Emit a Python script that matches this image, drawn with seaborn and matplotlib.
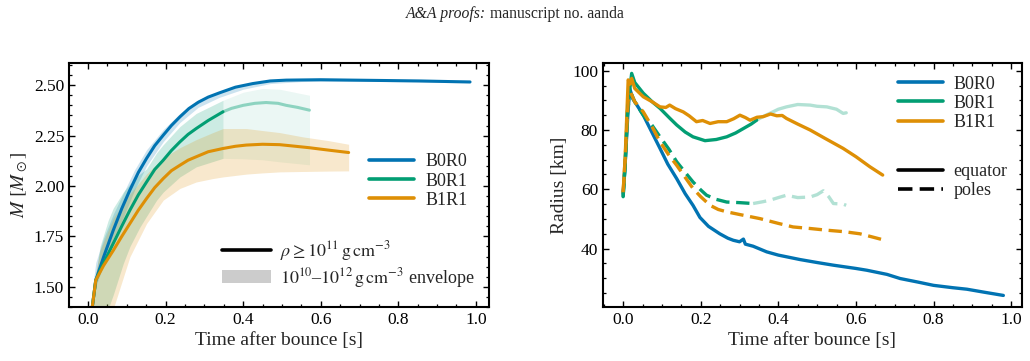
import numpy as np
import matplotlib
matplotlib.use("Agg")
import matplotlib.pyplot as plt
from matplotlib.ticker import AutoMinorLocator
from matplotlib.lines import Line2D
from matplotlib.patches import Patch
import seaborn as sns

# ---------------- data ----------------
models = ["B0R0", "B0R1", "B1R1"]
t_cut = 0.35  # B0R1 shown faded after this time

# Left panel: mass (rho >= 1e11 g/cm3)
t_m_b0r0 = [0.005, 0.008, 0.011, 0.020, 0.040, 0.065, 0.087, 0.108, 0.130, 0.151, 0.172, 0.194,
            0.215, 0.237, 0.260, 0.284, 0.310, 0.339, 0.380, 0.425, 0.470, 0.511, 0.600, 0.682,
            0.770, 0.853, 0.930, 0.985]
m_b0r0 = [1.30, 1.35, 1.40, 1.533, 1.647, 1.78, 1.888, 1.98, 2.068, 2.137, 2.20, 2.252,
          2.30, 2.343, 2.384, 2.415, 2.441, 2.462, 2.49, 2.508, 2.521, 2.525, 2.527, 2.525,
          2.523, 2.521, 2.518, 2.516]

t_m_b0r1 = [0.005, 0.008, 0.011, 0.020, 0.040, 0.065, 0.087, 0.108, 0.130, 0.151, 0.172, 0.194,
            0.215, 0.237, 0.258, 0.279, 0.310, 0.348, 0.370, 0.400, 0.430, 0.459, 0.490, 0.511,
            0.540, 0.571]
m_b0r1 = [1.30, 1.35, 1.40, 1.533, 1.617, 1.715, 1.801, 1.88, 1.957, 2.02, 2.082, 2.128,
          2.176, 2.219, 2.256, 2.285, 2.325, 2.368, 2.385, 2.40, 2.41, 2.414, 2.41, 2.40,
          2.39, 2.376]

t_m_b1r1 = [0.005, 0.008, 0.011, 0.020, 0.040, 0.065, 0.087, 0.108, 0.130, 0.151, 0.172, 0.194,
            0.215, 0.237, 0.258, 0.279, 0.310, 0.348, 0.380, 0.408, 0.450, 0.494, 0.530, 0.570,
            0.620, 0.672]
m_b1r1 = [1.30, 1.35, 1.40, 1.533, 1.605, 1.68, 1.75, 1.814, 1.881, 1.938, 1.992, 2.037,
          2.076, 2.103, 2.128, 2.145, 2.17, 2.186, 2.197, 2.203, 2.207, 2.205, 2.198, 2.19,
          2.178, 2.166]

# Envelopes (1e10 - 1e12 g/cm3)
t_env_b0r0 = [0.012, 0.020, 0.040, 0.065, 0.090, 0.120, 0.151, 0.194, 0.237, 0.284, 0.339,
              0.400, 0.470, 0.550, 0.700, 0.850, 0.985]
env_hi_b0r0 = [1.50, 1.62, 1.74, 1.86, 1.96, 2.08, 2.18, 2.28, 2.36, 2.428, 2.47,
               2.503, 2.525, 2.531, 2.530, 2.525, 2.52]
env_lo_b0r0 = [1.38, 1.50, 1.61, 1.74, 1.84, 1.98, 2.10, 2.22, 2.315, 2.39, 2.44,
               2.48, 2.508, 2.518, 2.520, 2.516, 2.511]

t_env_b0r1 = [0.012, 0.020, 0.031, 0.052, 0.065, 0.091, 0.108, 0.134, 0.151, 0.177, 0.194,
              0.237, 0.279, 0.348, 0.400, 0.450, 0.494, 0.571]
env_hi_b0r1 = [1.40, 1.56, 1.70, 1.83, 1.89, 1.97, 2.01, 2.06, 2.085, 2.165, 2.205,
               2.295, 2.36, 2.425, 2.465, 2.484, 2.48, 2.45]
env_lo_b0r1 = [1.00, 1.10, 1.22, 1.39, 1.46, 1.616, 1.70, 1.797, 1.85, 1.93, 1.97,
               2.045, 2.095, 2.137, 2.135, 2.13, 2.12, 2.105]

t_env_b1r1 = [0.012, 0.020, 0.031, 0.052, 0.065, 0.108, 0.151, 0.194, 0.237, 0.279, 0.322,
              0.348, 0.408, 0.450, 0.494, 0.553, 0.620, 0.672]
env_hi_b1r1 = [1.40, 1.57, 1.68, 1.78, 1.84, 1.96, 2.06, 2.14, 2.19, 2.23, 2.265,
               2.285, 2.285, 2.275, 2.265, 2.244, 2.225, 2.207]
env_lo_b1r1 = [0.90, 1.00, 1.10, 1.30, 1.39, 1.649, 1.814, 1.93, 1.988, 2.02, 2.037,
               2.045, 2.059, 2.065, 2.07, 2.072, 2.074, 2.075]

# Right panel: radius, equator
t_eq_b0r0 = [0.0, 0.005, 0.012, 0.017, 0.025, 0.035, 0.052, 0.075, 0.095, 0.115, 0.138, 0.16,
             0.18, 0.198, 0.22, 0.249, 0.27, 0.284, 0.30, 0.31, 0.315, 0.335, 0.37, 0.40,
             0.456, 0.50, 0.542, 0.60, 0.628, 0.68, 0.714, 0.76, 0.80, 0.85, 0.886, 0.93, 0.98]
r_eq_b0r0 = [58.5, 68, 85, 94, 90.5, 88.5, 85, 79, 73.8, 68.5, 63.6, 58.5,
             54.6, 50.5, 47.5, 45, 43.5, 42.8, 42.3, 43.2, 41.5, 40.8, 38.9, 37.8,
             36.3, 35.3, 34.4, 33.3, 32.7, 31.3, 29.9, 28.7, 27.6, 26.8, 26.3, 25.3, 24.2]

t_eq_b0r1 = [0.0, 0.005, 0.012, 0.022, 0.03, 0.052, 0.075, 0.095, 0.12, 0.138, 0.16, 0.18,
             0.211, 0.24, 0.267, 0.29, 0.31, 0.33, 0.344, 0.36, 0.378, 0.40, 0.421, 0.45,
             0.482, 0.50, 0.525, 0.55, 0.567, 0.575]
r_eq_b0r1 = [57.5, 68, 88, 99.1, 96, 92.4, 89.5, 87.3, 84, 81.7, 79.3, 77.7,
             76.4, 76.8, 77.7, 79, 80.5, 82, 83.3, 84.5, 85.6, 87, 87.8, 88.6,
             88.4, 88, 87.8, 87, 85.6, 85.8]

t_eq_b1r1 = [0.0, 0.005, 0.013, 0.018, 0.022, 0.03, 0.052, 0.075, 0.095, 0.11, 0.12, 0.135,
             0.155, 0.17, 0.189, 0.205, 0.224, 0.245, 0.267, 0.285, 0.301, 0.315, 0.327, 0.345,
             0.361, 0.38, 0.396, 0.41, 0.421, 0.45, 0.482, 0.52, 0.567, 0.60, 0.636, 0.669]
r_eq_b1r1 = [59, 70, 96.9, 95.5, 97.4, 94, 91.2, 89.5, 87.8, 87.6, 88.4, 87.2,
             86.1, 84.8, 82.8, 83.2, 82.2, 82.8, 82.8, 83.8, 85, 84.2, 83.3, 84.3,
             84.5, 85.4, 84.8, 84.9, 83.9, 82, 80, 77.2, 73.8, 71, 67.6, 64.8]

# Right panel: radius, poles
t_po_b0r1 = [0.0, 0.005, 0.012, 0.022, 0.03, 0.052, 0.075, 0.095, 0.118, 0.138, 0.16, 0.18,
             0.20, 0.215, 0.24, 0.267, 0.30, 0.335, 0.36, 0.378, 0.40, 0.421, 0.45, 0.482,
             0.50, 0.516, 0.53, 0.542, 0.567, 0.575]
r_po_b0r1 = [57.5, 68, 88, 92, 89.5, 85, 81.5, 77.7, 73.5, 69.3, 65.7, 62.5,
             59.8, 58, 56.6, 55.7, 55.5, 55.2, 55.8, 56.3, 57.2, 58, 57.2, 57.4,
             58.2, 59.5, 57.5, 55.2, 55.0, 54.6]

t_po_b1r1 = [0.0, 0.005, 0.013, 0.02, 0.03, 0.052, 0.075, 0.095, 0.118, 0.138, 0.16, 0.18,
             0.20, 0.224, 0.245, 0.267, 0.30, 0.353, 0.40, 0.438, 0.48, 0.525, 0.57, 0.61,
             0.64, 0.669]
r_po_b1r1 = [59, 70, 90, 92.5, 89.5, 86.1, 81, 76, 71.5, 68.1, 64, 60.3,
             57.5, 54.6, 53.2, 52.4, 51.5, 50.1, 48.5, 47.3, 46.8, 46.2, 45.7, 45,
             44, 43]

# ---------------- style ----------------
sns.set_theme(style="ticks")
pal = sns.color_palette("colorblind")
colors = {"B0R0": pal[0], "B0R1": pal[2], "B1R1": pal[1]}

plt.rcParams.update({
    "font.family": ["Liberation Serif", "DejaVu Serif"],
    "mathtext.fontset": "stix",
    "xtick.direction": "in", "ytick.direction": "in",
    "xtick.top": True, "ytick.right": True,
    "xtick.major.size": 4.0, "ytick.major.size": 4.0,
    "xtick.minor.size": 2.2, "ytick.minor.size": 2.2,
    "xtick.major.width": 1.0, "ytick.major.width": 1.0,
    "xtick.minor.width": 0.9, "ytick.minor.width": 0.9,
    "axes.linewidth": 1.5,
    "xtick.labelsize": 12.5, "ytick.labelsize": 12.5,
    "axes.labelsize": 14,
    "xtick.color": "black", "ytick.color": "black",
    "axes.edgecolor": "black",
    "axes.labelpad": 3.0,
})

fig = plt.figure(figsize=(10.30, 3.61), dpi=100)
axL = fig.add_axes([0.067, 0.1496, 0.4078, 0.6759])
axR = fig.add_axes([0.5854, 0.1496, 0.4068, 0.6759])

# header line: italic part + roman part, centred together
renderer = fig.canvas.get_renderer()
t1 = fig.text(0, 0.962, "A&A proofs:", style="italic", fontsize=11.3, va="center", ha="left")
t2 = fig.text(0, 0.962, " manuscript no. aanda", fontsize=11.3, va="center", ha="left")
w1 = t1.get_window_extent(renderer).width / fig.bbox.width
w2 = t2.get_window_extent(renderer).width / fig.bbox.width
x0 = 0.5 - (w1 + w2) / 2
t1.set_x(x0)
t2.set_x(x0 + w1)

LW = 2.2
LWR = 2.4


def split(t, y, cut):
    t = np.asarray(t); y = np.asarray(y)
    a = t <= cut + 1e-9
    i = np.nonzero(a)[0][-1]
    return (t[a], y[a]), (t[i:], y[i:])


# ---------------- left panel ----------------
axL.fill_between(t_env_b0r0, env_lo_b0r0, env_hi_b0r0, color=colors["B0R0"], alpha=0.2, lw=0)
(e1, e2) = split(t_env_b0r1, env_lo_b0r1, t_cut)
(f1, f2) = split(t_env_b0r1, env_hi_b0r1, t_cut)
axL.fill_between(e1[0], e1[1], f1[1], color=colors["B0R1"], alpha=0.2, lw=0)
axL.fill_between(e2[0], e2[1], f2[1], color=colors["B0R1"], alpha=0.08, lw=0)
axL.fill_between(t_env_b1r1, env_lo_b1r1, env_hi_b1r1, color=colors["B1R1"], alpha=0.2, lw=0)

sns.lineplot(x=t_m_b0r0, y=m_b0r0, ax=axL, color=colors["B0R0"], lw=LW, sort=False, estimator=None)
(s1, s2) = split(t_m_b0r1, m_b0r1, t_cut)
sns.lineplot(x=s1[0], y=s1[1], ax=axL, color=colors["B0R1"], lw=LW, sort=False, estimator=None)
sns.lineplot(x=s2[0], y=s2[1], ax=axL, color=colors["B0R1"], lw=LW, alpha=0.4, sort=False, estimator=None)
sns.lineplot(x=t_m_b1r1, y=m_b1r1, ax=axL, color=colors["B1R1"], lw=LW, sort=False, estimator=None)

axL.set_xlim(-0.049, 1.034)
axL.set_ylim(1.40, 2.61)
axL.set_yticks([1.50, 1.75, 2.00, 2.25, 2.50])
axL.set_yticklabels(["1.50", "1.75", "2.00", "2.25", "2.50"])
axL.set_xticks([0.0, 0.2, 0.4, 0.6, 0.8, 1.0])
axL.set_xlabel("Time after bounce [s]")
axL.set_ylabel(r"$M\ [M_\odot]$")

h_models = [Line2D([], [], color=colors[m], lw=2.6) for m in models]
legA = axL.legend(h_models, models, loc="center left", bbox_to_anchor=(0.715, 0.516),
                  frameon=False, fontsize=13, handlelength=2.5, handletextpad=0.6,
                  labelspacing=0.12, borderaxespad=0, borderpad=0)
axL.add_artist(legA)
h_sty = [Line2D([], [], color="black", lw=2.6), Patch(facecolor="0.8", edgecolor="none")]
axL.legend(h_sty, [r"$\rho \geq 10^{11}\,\mathrm{g\,cm^{-3}}$",
                   r"$10^{10}$–$10^{12}\,\mathrm{g\,cm^{-3}}$ envelope"],
           loc="center left", bbox_to_anchor=(0.365, 0.175), frameon=False, fontsize=13,
           handlelength=2.7, handletextpad=0.5, labelspacing=0.15, borderaxespad=0, borderpad=0)

# ---------------- right panel ----------------
DASH = (0, (4, 2))
sns.lineplot(x=t_eq_b0r0, y=r_eq_b0r0, ax=axR, color=colors["B0R0"], lw=LWR, sort=False, estimator=None)
(q1, q2) = split(t_eq_b0r1, r_eq_b0r1, t_cut)
sns.lineplot(x=q1[0], y=q1[1], ax=axR, color=colors["B0R1"], lw=LWR, sort=False, estimator=None)
sns.lineplot(x=q2[0], y=q2[1], ax=axR, color=colors["B0R1"], lw=LWR, alpha=0.3, sort=False, estimator=None)
sns.lineplot(x=t_eq_b1r1, y=r_eq_b1r1, ax=axR, color=colors["B1R1"], lw=LWR, sort=False, estimator=None)

(p1, p2) = split(t_po_b0r1, r_po_b0r1, t_cut)
sns.lineplot(x=p1[0], y=p1[1], ax=axR, color=colors["B0R1"], lw=LWR, sort=False, estimator=None, linestyle=DASH)
sns.lineplot(x=p2[0], y=p2[1], ax=axR, color=colors["B0R1"], lw=LWR, alpha=0.3, sort=False, estimator=None, linestyle=DASH)
sns.lineplot(x=t_po_b1r1, y=r_po_b1r1, ax=axR, color=colors["B1R1"], lw=LWR, sort=False,
             estimator=None, linestyle=DASH)

axR.set_xlim(-0.052, 1.028)
axR.set_ylim(20.3, 102.6)
axR.set_yticks([40, 60, 80, 100])
axR.set_xticks([0.0, 0.2, 0.4, 0.6, 0.8, 1.0])
axR.set_xlabel("Time after bounce [s]")
axR.set_ylabel("Radius [km]")

legB = axR.legend(h_models, models, loc="center left", bbox_to_anchor=(0.703, 0.835),
                  frameon=False, fontsize=13, handlelength=2.5, handletextpad=0.6,
                  labelspacing=0.12, borderaxespad=0, borderpad=0)
axR.add_artist(legB)
h_ls = [Line2D([], [], color="black", lw=2.6), Line2D([], [], color="black", lw=2.6, ls=DASH)]
axR.legend(h_ls, ["equator", "poles"], loc="center left", bbox_to_anchor=(0.703, 0.515),
           frameon=False, fontsize=13, handlelength=2.5, handletextpad=0.6,
           labelspacing=0.12, borderaxespad=0, borderpad=0)

for ax in (axL, axR):
    ax.xaxis.set_minor_locator(AutoMinorLocator())
    ax.yaxis.set_minor_locator(AutoMinorLocator())
    ax.tick_params(which="both", top=True, right=True, direction="in")
    for sp in ax.spines.values():
        sp.set_visible(True)
        sp.set_linewidth(1.5)
        sp.set_color("black")

fig.savefig("out.png", dpi=100)
